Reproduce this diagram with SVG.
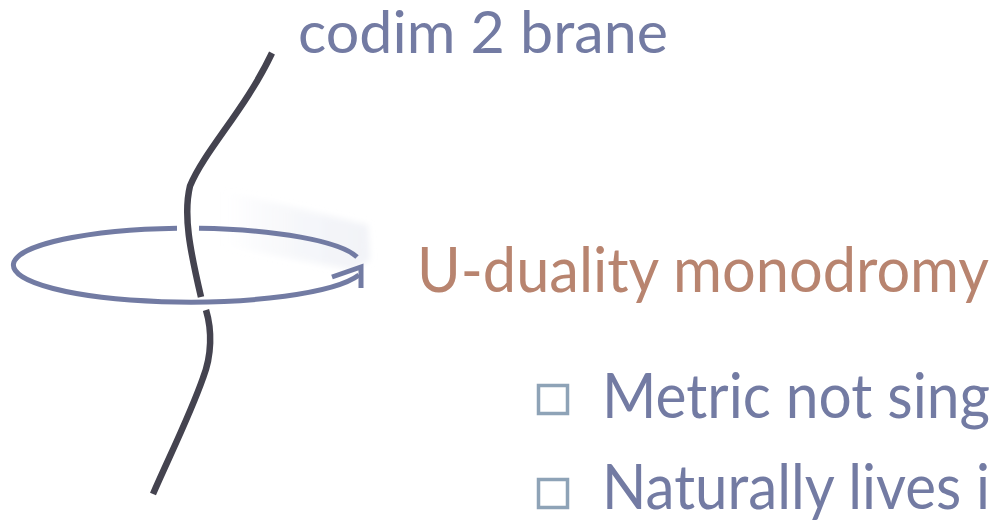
<svg xmlns="http://www.w3.org/2000/svg" width="992" height="521" viewBox="0 0 992 521">
  <defs>
    <linearGradient id="fadeArc" gradientUnits="userSpaceOnUse" x1="235" y1="0" x2="360" y2="0">
      <stop offset="0" stop-color="#727ba3" stop-opacity="1"/>
      <stop offset="1" stop-color="#727ba3" stop-opacity="0"/>
    </linearGradient>
    <linearGradient id="haze" gradientUnits="userSpaceOnUse" x1="222" y1="0" x2="372" y2="0">
      <stop offset="0" stop-color="#edeff5" stop-opacity="0"/>
      <stop offset="0.5" stop-color="#edeff5" stop-opacity="0.5"/>
      <stop offset="1" stop-color="#edeff5" stop-opacity="0.8"/>
    </linearGradient>
    <filter id="soft" x="-10%" y="-20%" width="120%" height="140%">
      <feGaussianBlur stdDeviation="3"/>
    </filter>
    <style>
      .loop { fill: none; stroke: #727ba3; stroke-width: 5; }
      .brane { fill: none; stroke: #44434f; stroke-width: 6.5; }
      .lbl { font-family: "Lato", "Open Sans", sans-serif; fill: #737ba3; }
      .box { fill: none; stroke: #8ea3b7; stroke-width: 3.5; }
    </style>
  </defs>
  <rect width="992" height="521" fill="#ffffff"/>

  <!-- motion haze behind the loop -->
  <polygon points="225,191 368,225 370,260 352,270 225,246" fill="url(#haze)" filter="url(#soft)"/>

  <g id="connectors">
    <!-- loop around the brane: main sweep ending in the arrowhead -->
    <path class="loop" d="M177 228.2 A176 37 0 1 0 359 275"/>
    <polyline class="loop" points="332,277 361,267 361,288" stroke-linejoin="miter"/>
    <!-- fading upper part of the loop -->
    <path class="loop" d="M199 228.2 A176 37 0 0 1 357 257" stroke="url(#fadeArc)"/>
  </g>

  <g id="brane">
    <path class="brane" d="M272 53 C245 110 205 150 190 186 C183 215 190 250 201 297"/>
    <path class="brane" d="M206 310 C212 330 212 355 203 378 C190 415 170 455 153 494"/>
  </g>

  <g id="brane-label">
    <text class="lbl" x="298" y="53" font-size="58" textLength="370" lengthAdjust="spacingAndGlyphs">codim 2 brane</text>
  </g>

  <g id="monodromy-label">
    <text class="lbl" x="417" y="292" font-size="62" style="fill:#b8846f" textLength="572" lengthAdjust="spacingAndGlyphs">U-duality monodromy</text>
  </g>

  <g id="bullet-1">
    <rect class="box" x="538.5" y="385.5" width="29" height="28"/>
    <text class="lbl" x="602" y="418" font-size="62" textLength="388" lengthAdjust="spacingAndGlyphs">Metric not sing</text>
  </g>

  <g id="bullet-2">
    <rect class="box" x="538.5" y="479.5" width="29" height="28"/>
    <text class="lbl" x="602" y="509" font-size="62" textLength="388" lengthAdjust="spacingAndGlyphs">Naturally lives i</text>
  </g>
</svg>
